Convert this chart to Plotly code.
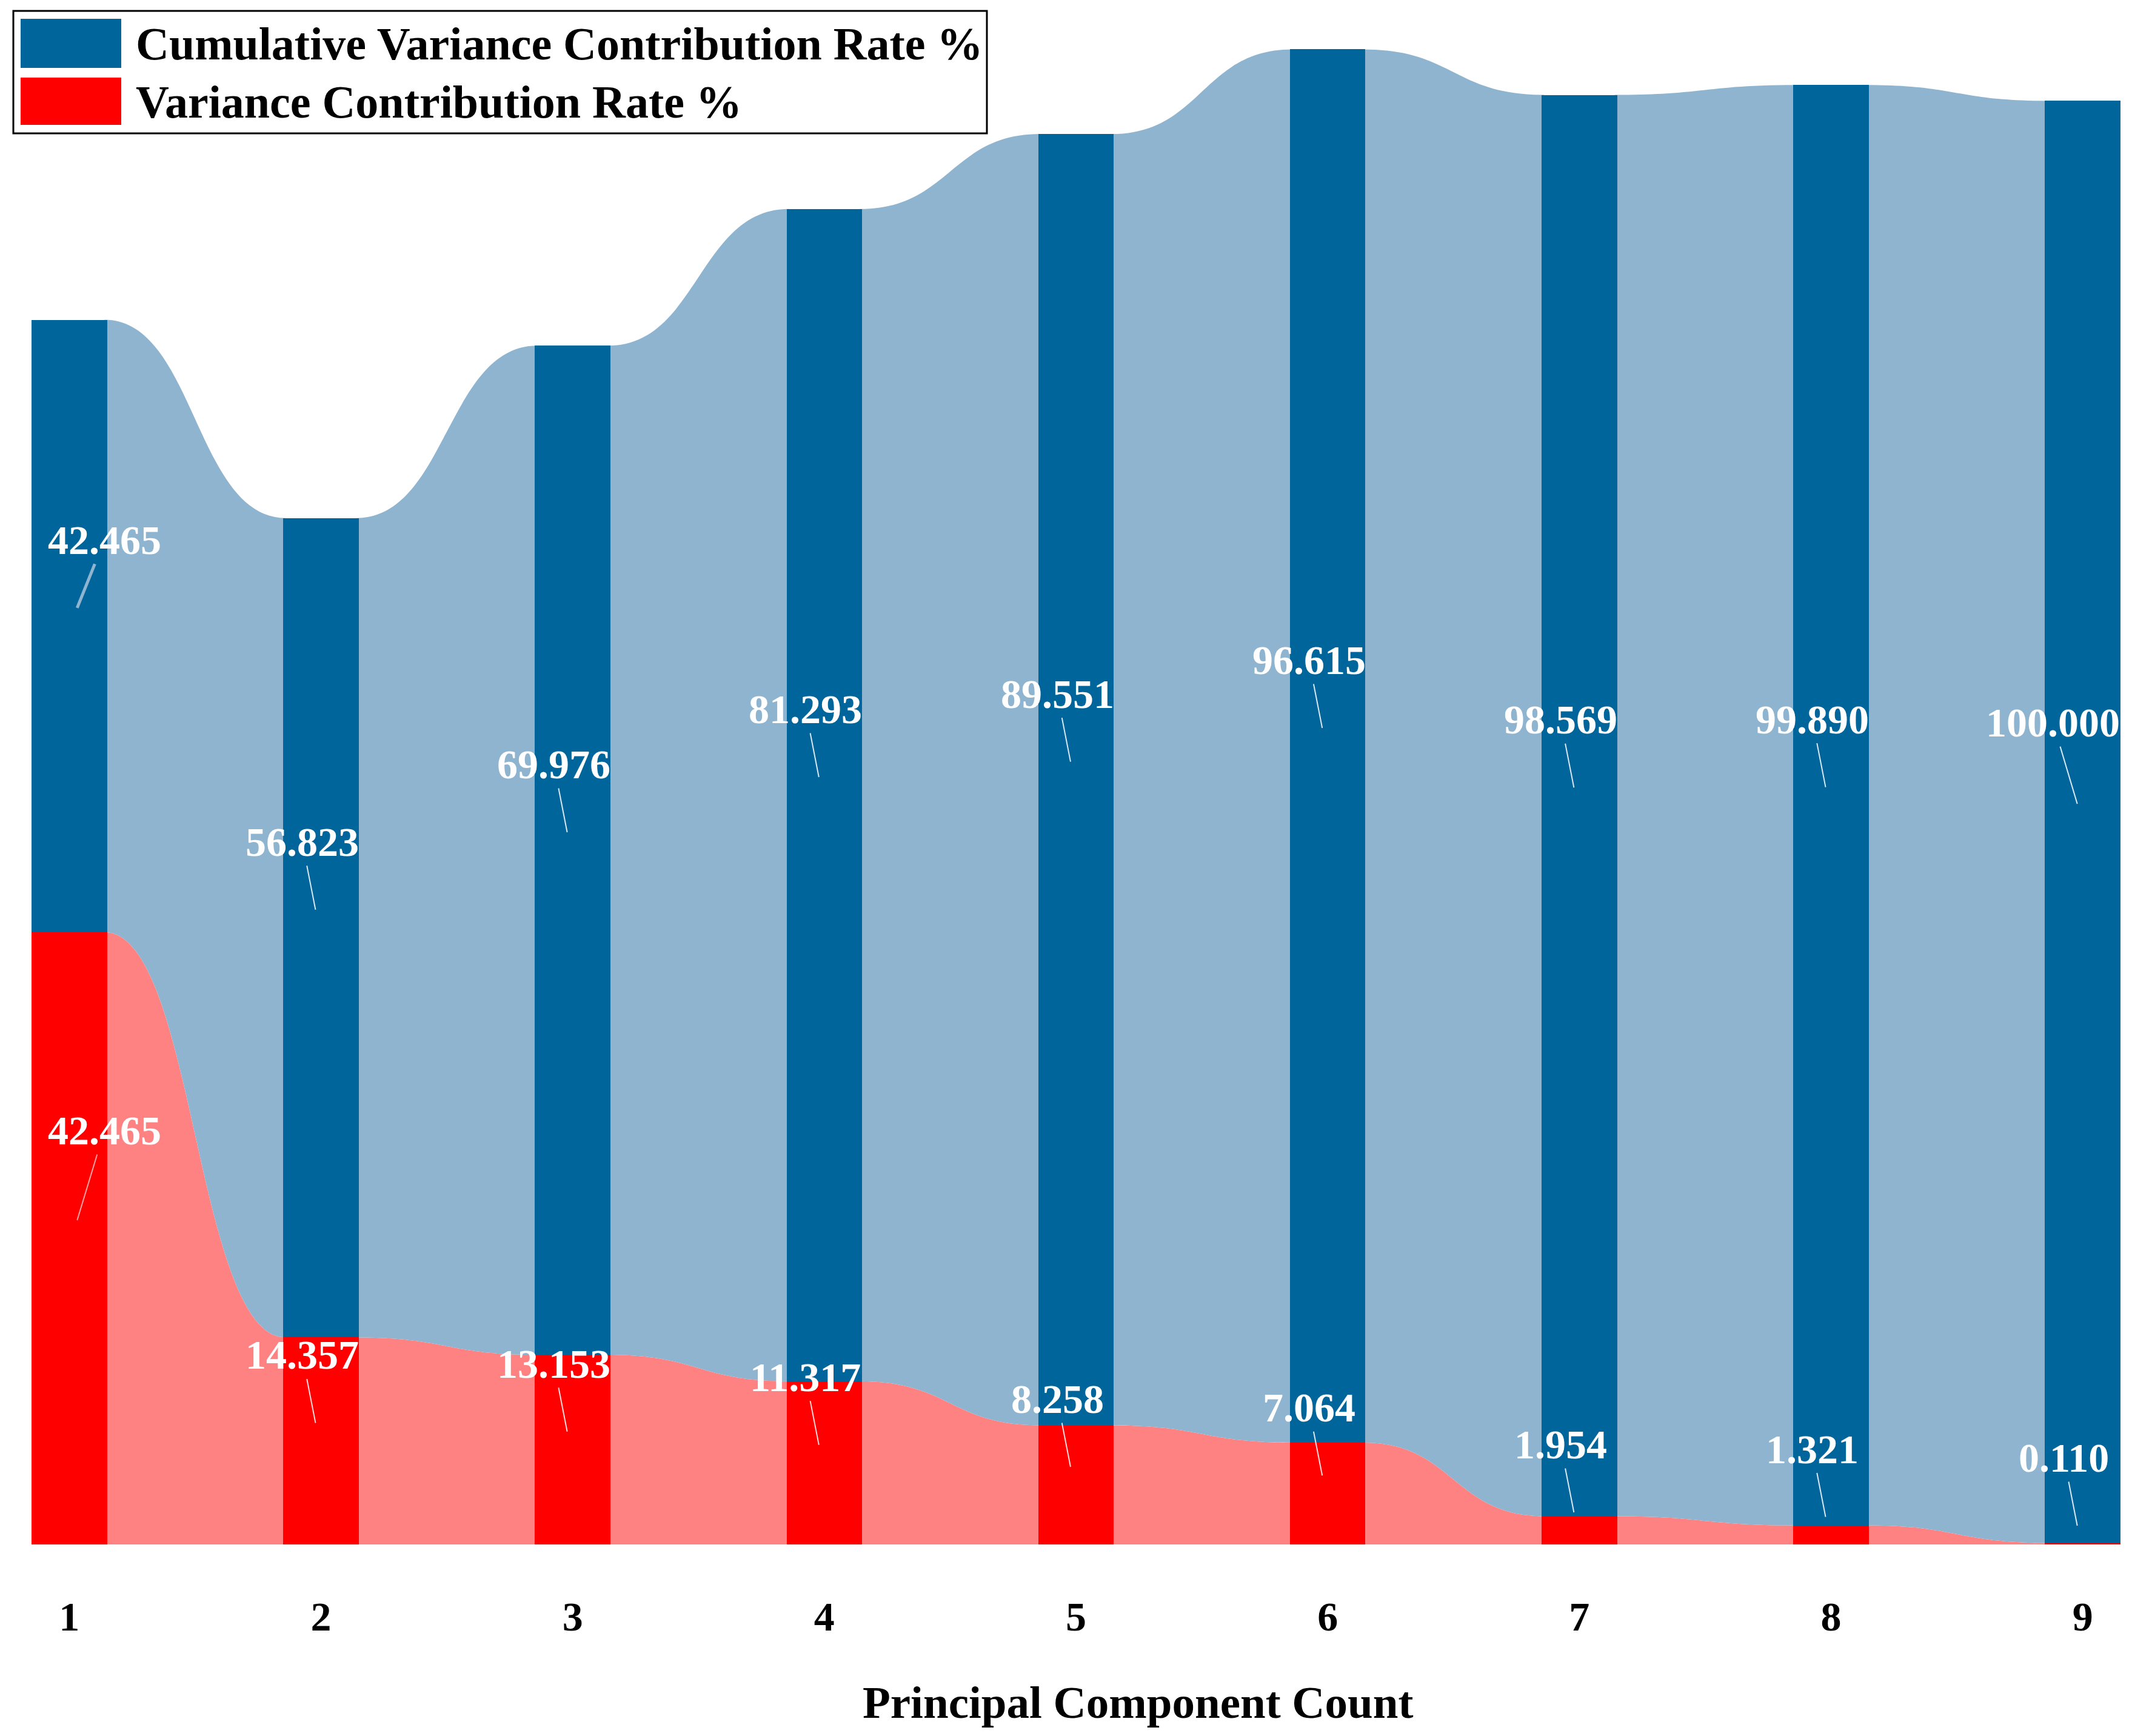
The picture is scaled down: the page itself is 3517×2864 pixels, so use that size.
import plotly.graph_objects as go

# ---------------- data ----------------
components = [1, 2, 3, 4, 5, 6, 7, 8, 9]
tick_labels = ["1", "2", "3", "4", "5", "6", "7", "8", "9"]
variance = [42.465, 14.357, 13.153, 11.317, 8.258, 7.064, 1.954, 1.321, 0.110]
cumulative = [42.465, 56.823, 69.976, 81.293, 89.551, 96.615, 98.569, 99.890, 100.000]
series_names = ["Cumulative Variance Contribution Rate %", "Variance Contribution Rate %"]
x_title = "Principal Component Count"

# ---------------- style ----------------
W, H = 3517, 2864
OFF = 8  # page body margin offset
PLOT_W = 3446
PLOT_H = 2548 - OFF
ML = 52 - OFF
MR = W - ML - PLOT_W
MT = 0
MB = H - PLOT_H
BAR_W = 0.3
XR = [0.85, 9.15]
PX_PER_Y = 23.79
YR = [0, PLOT_H / PX_PER_Y]
FONT = "Liberation Serif, Times New Roman, serif"
BLUE = "#00659B"
BLUE_LIGHT = "#8FB4CF"
RED = "#FF0000"
RED_LIGHT = "#FF8282"

px_per_x = PLOT_W / (XR[1] - XR[0])


def paper_x(p):
    return (p - OFF - ML) / PLOT_W


def paper_y(p):
    return (PLOT_H - (p - OFF)) / PLOT_H


totals = [v + c for v, c in zip(variance, cumulative)]

fig = go.Figure()
fig.add_trace(go.Bar(x=components, y=variance, width=BAR_W, name=series_names[1],
                     marker=dict(color=RED, line=dict(width=0)), showlegend=False))
fig.add_trace(go.Bar(x=components, y=cumulative, width=BAR_W, name=series_names[0],
                     marker=dict(color=BLUE, line=dict(width=0)), showlegend=False))


def link_path(x0, x1, lo0, hi0, lo1, hi1):
    xm = (x0 + x1) / 2
    return (f"M {x0},{lo0} L {x0},{hi0} C {xm},{hi0} {xm},{hi1} {x1},{hi1} "
            f"L {x1},{lo1} C {xm},{lo1} {xm},{lo0} {x0},{lo0} Z")


shapes = []
for i in range(len(components) - 1):
    x0 = components[i] + BAR_W / 2 - 0.01
    x1 = components[i + 1] - BAR_W / 2 + 0.01
    shapes.append(dict(type="path", xref="x", yref="y", layer="below",
                       path=link_path(x0, x1, 0, variance[i], 0, variance[i + 1]),
                       fillcolor=RED_LIGHT, line=dict(width=0)))
    shapes.append(dict(type="path", xref="x", yref="y", layer="below",
                       path=link_path(x0, x1, variance[i], totals[i], variance[i + 1], totals[i + 1]),
                       fillcolor=BLUE_LIGHT, line=dict(width=0)))

# manual legend (window pixel coordinates)
shapes.append(dict(type="rect", xref="paper", yref="paper", layer="above",
                   x0=paper_x(22), x1=paper_x(1628), y0=paper_y(220), y1=paper_y(18),
                   fillcolor="white", line=dict(color="black", width=3)))
shapes.append(dict(type="rect", xref="paper", yref="paper", layer="above",
                   x0=paper_x(34), x1=paper_x(200), y0=paper_y(112), y1=paper_y(31),
                   fillcolor=BLUE, line=dict(width=0)))
shapes.append(dict(type="rect", xref="paper", yref="paper", layer="above",
                   x0=paper_x(34), x1=paper_x(200), y0=paper_y(206), y1=paper_y(128),
                   fillcolor=RED, line=dict(width=0)))

annotations = []
for txt, py in [(series_names[0], 72), (series_names[1], 168)]:
    annotations.append(dict(xref="paper", yref="paper", x=paper_x(222), y=paper_y(py),
                            xanchor="left", yanchor="middle", showarrow=False, text=txt,
                            font=dict(family=FONT, size=76, color="black", weight="bold")))

# x-axis title (offset to the right of plot centre as in the original)
annotations.append(dict(xref="paper", yref="paper", x=paper_x(1877), y=paper_y(2808),
                        xanchor="center", yanchor="middle", showarrow=False, text=x_title,
                        font=dict(family=FONT, size=75, color="black", weight="bold")))

# value labels with leader lines
last = len(components) - 1
for i, comp in enumerate(components):
    segs = [(variance[i] + cumulative[i] / 2, cumulative[i], "blue"),
            (variance[i] / 2, variance[i], "red")]
    for mid, val, kind in segs:
        anchor_y = mid + 1.25
        if i == 0:
            dx = 13 / px_per_x
            ax = 45
            ay = -112 if kind == "blue" else -148
            acol = BLUE_LIGHT if kind == "blue" else "#FFA0A0"
            aw = 5 if kind == "blue" else 2
        else:
            dx = -9 / px_per_x
            if i == last and kind == "blue":
                ax, ay = -40, -134
            else:
                ax, ay = -22, -112
            acol = "rgba(255,255,255,0.85)"
            aw = 2
        annotations.append(dict(xref="x", yref="y", x=comp + dx, y=anchor_y,
                                ax=ax, ay=ay, showarrow=True, arrowhead=0,
                                arrowwidth=aw, arrowcolor=acol, text=f"{val:.3f}",
                                font=dict(family=FONT, size=68, color="white", weight="bold")))

fig.update_layout(
    width=W, height=H,
    margin=dict(l=ML, r=MR, t=MT, b=MB),
    barmode="stack",
    bargap=0,
    plot_bgcolor="white",
    paper_bgcolor="white",
    showlegend=False,
    shapes=shapes,
    annotations=annotations,
    xaxis=dict(range=XR, tickmode="array", tickvals=components, ticktext=tick_labels,
               showgrid=False, zeroline=False, showline=False, ticks="",
               ticklabelstandoff=73,
               tickfont=dict(family=FONT, size=68, color="black", weight="bold")),
    yaxis=dict(range=YR, visible=False, showgrid=False, zeroline=False),
)

fig.write_html("out.html")
